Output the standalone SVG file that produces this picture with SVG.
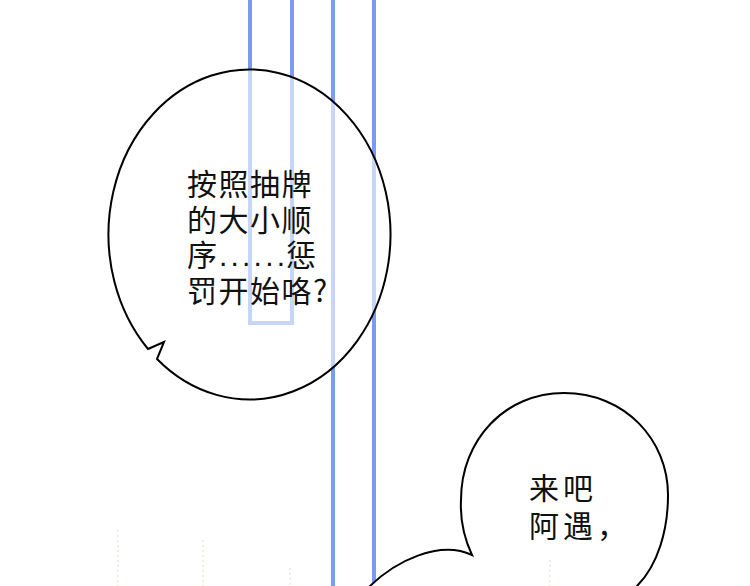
<svg xmlns="http://www.w3.org/2000/svg" width="750" height="586" viewBox="0 0 750 586">
  <style>
    .bar { stroke: #7a9bf0; stroke-width: 4; fill: none; }
    .bubble { stroke: #000; stroke-width: 2; stroke-linejoin: miter; }
    .txt { font-family: "Noto Sans CJK SC", "Noto Sans", sans-serif; font-size: 30px; fill: #111; }
    .dots { font-family: "Liberation Sans", sans-serif; font-size: 30px; fill: #111; }
    .faint { stroke: #f1eedb; stroke-width: 2; stroke-dasharray: 2 3; }
  </style>
  <rect width="750" height="586" fill="#ffffff"/>
  <g id="background-lines">
    <line class="faint" x1="118" y1="530" x2="118" y2="586"/>
    <line class="faint" x1="203" y1="540" x2="203" y2="586"/>
    <line class="faint" x1="290" y1="568" x2="290" y2="586"/>
    <path class="bar" d="M250 0 V323 H292 V0"/>
    <line class="bar" x1="333" y1="0" x2="333" y2="586"/>
    <line class="bar" x1="374" y1="0" x2="374" y2="586"/>
  </g>
  <g id="bubble1">
    <path class="bubble" fill="#ffffff" fill-opacity="0.58" d="M148 349 L164 342 L157 359 A141 165 0 1 0 148 349 Z"/>
    <text class="txt" x="187" y="195" letter-spacing="1.5">按照抽牌</text>
    <text class="txt" x="187" y="231" letter-spacing="1.5">的大小顺</text>
    <text class="txt" x="187" y="266">序</text>
    <text class="dots" x="219" y="266" letter-spacing="3.2">......</text>
    <text class="txt" x="286" y="266">惩</text>
    <text class="txt" x="187" y="302" letter-spacing="1.5">罚开始咯?</text>
  </g>
  <g id="bubble2">
    <path class="bubble" fill="#ffffff" d="M366 590 C395 560 440 540 472 555 C465 540 460 520 461 500 C461 440 505 393 564 393 C625 393 668 440 668 495 C668 530 658 565 637 586 L627 598 L627 620 L366 620 Z"/>
    <line class="faint" x1="550" y1="560" x2="550" y2="586"/>
    <text class="txt" x="529" y="499" letter-spacing="4">来吧</text>
    <text class="txt" x="529" y="537" letter-spacing="4">阿遇，</text>
  </g>
</svg>
